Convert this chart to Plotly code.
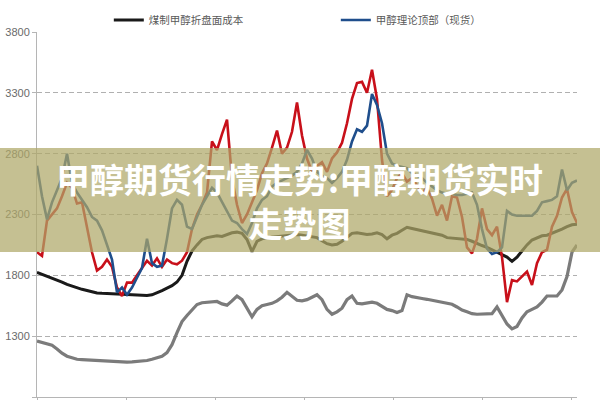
import plotly.graph_objects as go

# sample index (weekly-ish observations across the period)
x_idx = list(range(109))

coal_cost = [1825, 1810, 1790, 1775, 1760, 1745, 1725, 1710, 1695, 1685,
             1675, 1665, 1655, 1652, 1650, 1648, 1645, 1642, 1640, 1636,
             1633, 1632, 1635, 1640, 1655, 1675, 1695, 1715, 1745, 1800,
             1915, 2000, 2050, 2095, 2110, 2120, 2125, 2120, 2135, 2150,
             2155, 2145, 2095, 1995, 2080, 2100, 2110, 2115, 2120, 2120,
             2125, 2130, 2135, 2130, 2125, 2120, 2110, 2085, 2060, 2050,
             2055, 2080, 2110, 2145, 2150, 2140, 2135, 2140, 2150, 2135,
             2100, 2130, 2145, 2170, 2195, 2185, 2175, 2170, 2160, 2150,
             2140, 2130, 2110, 2105, 2100, 2095, 2095, 2080, 2060, 2045,
             2030, 2010, 1990, 1975, 1950, 1915, 1950, 2000, 2050, 2090,
             2110, 2125, 2130, 2145, 2160, 2180, 2200, 2215, 2220]

theory_top = [2700, 2450, 2260, 2400, 2500, 2600, 2800, 2560, 2480, 2420,
              2360, 2280, 2250, 2170, 2040, 1930, 1660, 1700, 1640, 1700,
              1780, 1860, 2100, 1900, 1870, 1880, 2100, 2350, 2420, 2380,
              2200, 2180, 2280, 2380, 2450, 2520, 2480, 2400, 2330, 2250,
              2230, 2180, 2140, 2230, 2350, 2420, 2450, 2530, 2560, 2580,
              2600, 2620, 2650, 2720, 2830, 2760, 2650, 2620, 2600, 2560,
              2600, 2650, 2750, 2900, 3000, 2980, 3030, 3290, 3200, 3050,
              2800, 2720, 2700, 2690, 2680, 2640, 2620, 2600, 2560, 2530,
              2500, 2480, 2470, 2470, 2460, 2460, 2470, 2480, 2380, 2180,
              2020, 1975, 1990, 2030, 2330, 2300, 2290, 2290, 2290, 2290,
              2330, 2400, 2410, 2420, 2450, 2670, 2500, 2560, 2580]

futures = [1990, 1960, 2250, 2300, 2350, 2450, 2560, 2520, 2390, 2400,
           2200, 1990, 1840, 1870, 1930, 1870, 1700, 1630, 1740, 1740,
           1800, 1860, 1920, 1880, 1940, 1870, 1930, 1900, 1890, 1920,
           1990, 2180, 2300, 2380, 2480, 2900, 2830, 2960, 3080, 2600,
           2380, 2230, 2300, 2400, 2500, 2640, 2720, 2850, 2990, 2800,
           2850, 2980, 3220, 2950, 2760, 2650, 2700, 2730, 2650, 2760,
           2810, 2890, 3050, 3250, 3380, 3390, 3300, 3490, 3250, 2750,
           2450, 2500, 2600, 2640, 2570, 2600, 2540, 2480, 2520, 2430,
           2290, 2380, 2250, 2450, 2440, 2280, 2030, 1980, 2100, 2350,
           2180, 2130, 2200, 1950, 1580, 1760, 1750, 1790, 1830, 1720,
           1900, 1990, 2010, 2200, 2290, 2440, 2510, 2320, 2230]

theory_bottom = [1260, 1250, 1240, 1225, 1195, 1160, 1135, 1120, 1110, 1108,
                 1105, 1103, 1100, 1098, 1095, 1090, 1088, 1087, 1087, 1088,
                 1090, 1095, 1100, 1110, 1120, 1135, 1165, 1230, 1330, 1420,
                 1470, 1520, 1560, 1575, 1580, 1580, 1585, 1565, 1555, 1590,
                 1630, 1600, 1530, 1460, 1520, 1550, 1560, 1570, 1590, 1620,
                 1660, 1630, 1595, 1590, 1600, 1620, 1640, 1600, 1520, 1480,
                 1500, 1530, 1600, 1630, 1570, 1565, 1570, 1580, 1570, 1545,
                 1520, 1510, 1495, 1510, 1640, 1625, 1615, 1610, 1603, 1595,
                 1585, 1575, 1565, 1562, 1540, 1515, 1500, 1485, 1480, 1480,
                 1480, 1485, 1540, 1470, 1400, 1360, 1380, 1450, 1500, 1520,
                 1540, 1580, 1630, 1630, 1630, 1680, 1790, 1990, 2050]

y_ticks = [800, 1300, 1800, 2300, 2800, 3300, 3800]
y_tick_text = ["800", "1300", "1800", "2300", "2800", "3300", "3800"]

banner_text = "<b>甲醇期货行情走势:甲醇期货实时<br>走势图</b>"

fig = go.Figure()
fig.add_trace(go.Scatter(x=x_idx, y=theory_bottom, mode="lines", name="甲醇理论底部",
                         line=dict(color="#7b7b7b", width=3.2), showlegend=False))
fig.add_trace(go.Scatter(x=x_idx, y=coal_cost, mode="lines", name="煤制甲醇折盘面成本",
                         line=dict(color="#1a1a1a", width=3)))
fig.add_trace(go.Scatter(x=x_idx, y=futures, mode="lines", name="甲醇期货价格",
                         line=dict(color="#c8101a", width=2.6), showlegend=False))
fig.add_trace(go.Scatter(x=x_idx, y=theory_top, mode="lines", name="甲醇理论顶部（现货）",
                         line=dict(color="#1f4e8c", width=2.6)))

fig.update_layout(
    width=600, height=400,
    margin=dict(l=37, r=23, t=32, b=3, autoexpand=False),
    paper_bgcolor="white", plot_bgcolor="white",
    font=dict(family="Liberation Sans, Noto Sans CJK SC, sans-serif", color="#666666", size=11),
    legend=dict(orientation="h", x=0.133, xanchor="left", y=1.033, yanchor="middle",
                font=dict(size=10.5, color="#595959", family="Noto Sans CJK SC, sans-serif"),
                entrywidth=182, bgcolor="rgba(0,0,0,0)", traceorder="normal"),
    xaxis=dict(range=[0, 108], showgrid=False, zeroline=False, showline=True,
               linecolor="#b5b5b5", linewidth=1, ticks="outside", ticklen=5,
               tickcolor="#b5b5b5", tick0=0, dtick=17.8, showticklabels=False),
    yaxis=dict(range=[800, 3800], tickvals=y_ticks, ticktext=y_tick_text,
               showgrid=True, gridcolor="#b0b0b0", griddash="5px,3px", gridwidth=1,
               zeroline=False, showline=True, linecolor="#b5b5b5", linewidth=1,
               ticks="outside", ticklen=4, tickcolor="#b5b5b5",
               tickfont=dict(size=11, color="#6a6a6a", family="Liberation Sans")),
    shapes=[dict(type="rect", xref="paper", yref="paper", x0=-0.08, x1=1.06,
                 y0=0.397, y1=0.682, fillcolor="rgba(174,167,104,0.72)",
                 line=dict(width=0), layer="above")],
    annotations=[dict(text=banner_text, xref="paper", yref="paper", x=0.487, y=0.537,
                      xanchor="center", yanchor="middle", showarrow=False,
                      font=dict(family="Noto Sans CJK SC", size=34, color="white"))],
)

fig.write_html("out.html", config={"displayModeBar": False},
               post_script="document.body.style.margin='0';document.body.style.overflow='hidden';")
